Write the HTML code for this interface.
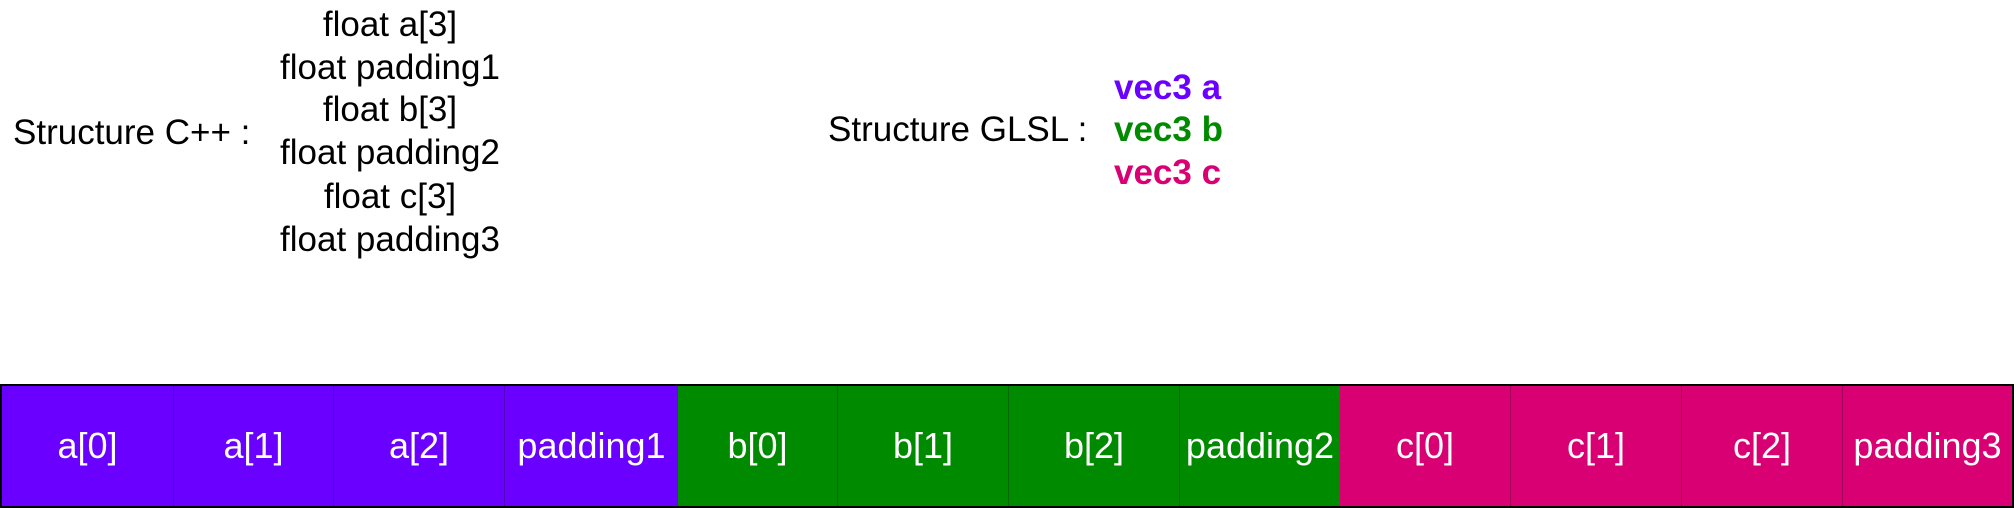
<!DOCTYPE html>
<html><head><meta charset="utf-8"><style>
body{margin:0;width:2016px;height:507px;background:#fff;position:relative;overflow:hidden;font-family:"Liberation Sans",Arial,sans-serif;}
.t{position:absolute;font-size:35px;line-height:40px;white-space:nowrap;transform:translate(-50%,-50%);}
.l{position:absolute;font-size:35px;line-height:40px;white-space:nowrap;transform:translateY(-50%);}
.b{font-weight:bold;}
.bar{position:absolute;left:0;top:384px;width:2010px;height:120px;border:2px solid #000;}
.c{position:absolute;top:0;height:120px;color:#fff;font-size:36px;display:flex;align-items:center;justify-content:center;box-sizing:border-box;border-right:1px solid rgba(0,0,0,0.25);}
.p{background:#6a00ff}.g{background:#008a00}.m{background:#d80073}
</style></head><body>
<div class="l" style="left:13px;top:133px">Structure C++ :</div>
<div class="t" style="left:390px;top:25px">float a[3]</div>
<div class="t" style="left:390px;top:68px">float padding1</div>
<div class="t" style="left:390px;top:110px">float b[3]</div>
<div class="t" style="left:390px;top:153px">float padding2</div>
<div class="t" style="left:390px;top:197px">float c[3]</div>
<div class="t" style="left:390px;top:240px">float padding3</div>
<div class="l" style="left:828px;top:130px">Structure GLSL :</div>
<div class="l b" style="left:1114px;top:88px;color:#6a00ff">vec3 a</div>
<div class="l b" style="left:1114px;top:130px;color:#008a00">vec3 b</div>
<div class="l b" style="left:1114px;top:173px;color:#d80073">vec3 c</div>
<div class="bar">
<div class="c p" style="left:0;width:172px">a[0]</div>
<div class="c p" style="left:172px;width:160px">a[1]</div>
<div class="c p" style="left:332px;width:171px">a[2]</div>
<div class="c p" style="left:503px;width:173px;border-right:none">padding1</div>
<div class="c g" style="left:676px;width:160px">b[0]</div>
<div class="c g" style="left:836px;width:171px">b[1]</div>
<div class="c g" style="left:1007px;width:171px">b[2]</div>
<div class="c g" style="left:1178px;width:160px;border-right:none">padding2</div>
<div class="c m" style="left:1338px;width:171px">c[0]</div>
<div class="c m" style="left:1509px;width:171px">c[1]</div>
<div class="c m" style="left:1680px;width:161px">c[2]</div>
<div class="c m" style="left:1841px;width:169px;border-right:none">padding3</div>
</div>
</body></html>
